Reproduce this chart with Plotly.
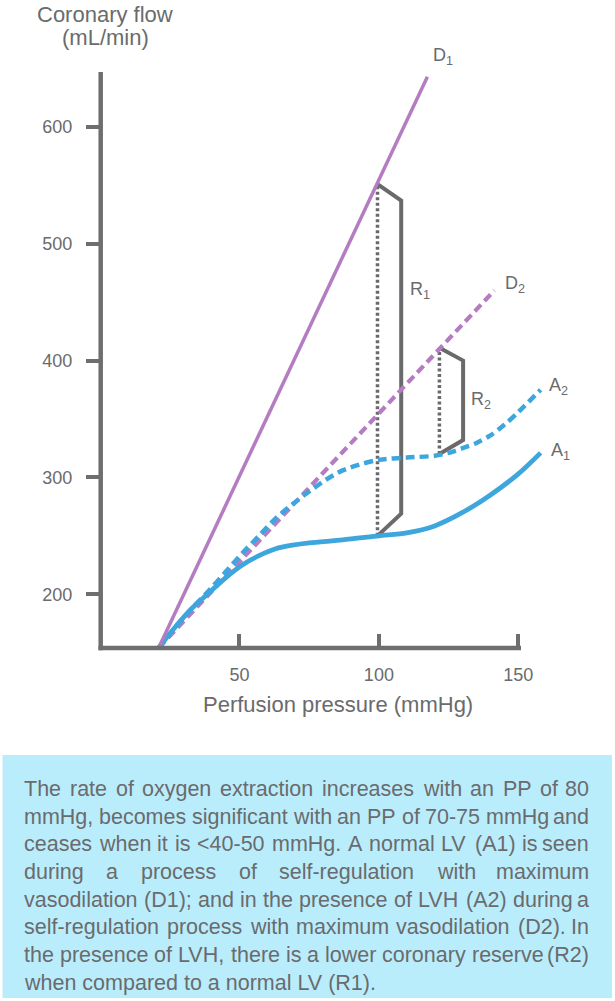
import plotly.graph_objects as go

# ---------------- data ----------------
x_ticks = [50, 100, 150]
y_ticks = [200, 300, 400, 500, 600]

d1_x = [21, 117.4]
d1_y = [154, 643]
d2_x = [21, 141.4]
d2_y = [154, 460]

a1_x = [21, 27, 33, 39, 45, 51, 57, 63, 69, 75, 87, 100, 110, 120, 130, 140, 150, 158]
a1_y = [154, 172, 188, 201, 214, 225, 233, 239, 242, 244, 246.5, 250, 252.5, 258.5, 270, 285, 303, 321]

a2_x = [21, 27, 33, 39, 45, 51, 57, 63, 69, 75, 81, 87, 93, 100, 110, 120, 125, 130, 135, 140, 145, 150, 158]
a2_y = [154, 172, 188, 203, 219, 235, 250, 265, 277, 288, 298, 306, 311, 315, 317, 318.5, 321, 325, 329.5, 336, 345, 356, 375]

r1_dot_x = [99.5, 99.5]
r1_dot_y = [250, 551]
r1_x = [99.5, 108, 108, 99.5]
r1_y = [551, 537, 269, 250]

r2_dot_x = [121.7, 121.7]
r2_dot_y = [320, 411]
r2_x = [121.7, 130.2, 130.2, 121.7]
r2_y = [411, 400, 332, 320]

label_text = ["D<sub>2</sub>", "R<sub>1</sub>", "R<sub>2</sub>", "A<sub>2</sub>", "A<sub>1</sub>"]
label_x = [148.9, 114.9, 136.7, 164.3, 165.0]
label_y = [465.4, 460.3, 366.0, 378.0, 322.4]
d1_label = "D<sub>1</sub>"

caption_lines = [
    "The rate of oxygen extraction increases with an PP of 80",
    "mmHg, becomes significant with an PP of 70-75 mmHg and",
    "ceases when it is <40-50 mmHg. A normal LV (A1) is seen",
    "during a process of self-regulation with maximum",
    "vasodilation (D1); and in the presence of LVH (A2) during a",
    "self-regulation process with maximum vasodilation (D2). In",
    "the presence of LVH, there is a lower coronary reserve (R2)",
    "when compared to a normal LV (R1).",
]

# ---------------- style ----------------
PURPLE = "#b47cc1"
BLUE = "#3ca6dd"
GRAY = "#6d6e70"
DARK = "#6a6a6c"
TXT = "#6a6b6d"
BOX = "#baedfc"
FONT = "Liberation Sans, Arial, Helvetica, sans-serif"

W, H = 615, 1001
L, T, PW, PH = 100, 72, 502, 576


def px_x(px):
    return (px - L) / PW


def px_y(py):
    return (T + PH - py) / PH


fig = go.Figure()

# brackets
for xs, ys in [(r1_dot_x, r1_dot_y), (r2_dot_x, r2_dot_y)]:
    fig.add_trace(go.Scatter(x=xs, y=ys, mode="lines",
                             line=dict(color=DARK, width=3.5, dash="3px,2.5px"),
                             hoverinfo="skip", showlegend=False))
for xs, ys in [(r1_x, r1_y), (r2_x, r2_y)]:
    fig.add_trace(go.Scatter(x=xs, y=ys, mode="lines",
                             line=dict(color=DARK, width=4),
                             hoverinfo="skip", showlegend=False))

# curves
fig.add_trace(go.Scatter(x=d2_x, y=d2_y, mode="lines",
                         line=dict(color=PURPLE, width=4.2, dash="9px,5px"), showlegend=False))
fig.add_trace(go.Scatter(x=a2_x, y=a2_y, mode="lines",
                         line=dict(color=BLUE, width=4.5, dash="9px,5px", shape="spline", smoothing=0.8),
                         showlegend=False))
fig.add_trace(go.Scatter(x=a1_x, y=a1_y, mode="lines",
                         line=dict(color=BLUE, width=4.8, shape="spline", smoothing=0.8), showlegend=False))
fig.add_trace(go.Scatter(x=d1_x, y=d1_y, mode="lines",
                         line=dict(color=PURPLE, width=3.5), showlegend=False))

annotations = []
for t, xx, yy in zip(label_text, label_x, label_y):
    annotations.append(dict(x=xx, y=yy, xref="x", yref="y", text=t, showarrow=False,
                            xanchor="center", yanchor="middle",
                            font=dict(family=FONT, size=18, color=TXT)))
annotations.append(dict(x=px_x(443), y=px_y(57), xref="paper", yref="paper", text=d1_label,
                        showarrow=False, xanchor="center", yanchor="middle",
                        font=dict(family=FONT, size=18, color=TXT)))

# axis titles
annotations.append(dict(x=px_x(105), y=px_y(14), xref="paper", yref="paper", text="Coronary flow",
                        showarrow=False, xanchor="center", yanchor="middle",
                        font=dict(family=FONT, size=22, color=TXT)))
annotations.append(dict(x=px_x(105), y=px_y(37), xref="paper", yref="paper", text="(mL/min)",
                        showarrow=False, xanchor="center", yanchor="middle",
                        font=dict(family=FONT, size=22, color=TXT)))
annotations.append(dict(x=px_x(338), y=px_y(704), xref="paper", yref="paper",
                        text="Perfusion pressure (mmHg)",
                        showarrow=False, xanchor="center", yanchor="middle",
                        font=dict(family=FONT, size=22, color=TXT)))

# caption (justified)
CW = {' ': 278, '(': 333, ')': 333, ',': 278, '-': 333, '.': 278, ';': 278, '<': 584,
      'A': 667, 'D': 722, 'H': 722, 'I': 278, 'L': 556, 'P': 667, 'R': 722, 'T': 611, 'V': 667,
      'a': 556, 'b': 556, 'c': 500, 'd': 556, 'e': 556, 'f': 278, 'g': 556, 'h': 556, 'i': 222,
      'l': 222, 'm': 833, 'n': 556, 'o': 556, 'p': 556, 'r': 333, 's': 500, 't': 278, 'u': 556,
      'v': 500, 'w': 722, 'x': 500, 'y': 500, 'z': 500}
FS = 21.5
LEFT, RIGHT = 23, 590


def tw(s):
    return sum(CW.get(c, 556) for c in s) / 1000.0 * FS


def esc(s):
    return s.replace("<", "&lt;")


for i, line in enumerate(caption_lines):
    base = 796 + i * 27.7
    yc = px_y(base - 0.33 * FS)
    if i == len(caption_lines) - 1:
        annotations.append(dict(x=px_x(LEFT), y=yc, xref="paper", yref="paper", text=esc(line),
                                xanchor="left", yanchor="middle", showarrow=False, borderpad=0,
                                font=dict(family=FONT, size=FS, color=TXT)))
        continue
    words = line.split(" ")
    total = sum(tw(w) for w in words)
    gap = (RIGHT - LEFT - total) / (len(words) - 1)
    cx = LEFT
    for j, w in enumerate(words):
        if j == len(words) - 1:
            annotations.append(dict(x=px_x(RIGHT), y=yc, xref="paper", yref="paper", text=esc(w),
                                    xanchor="right", yanchor="middle", showarrow=False, borderpad=0,
                                    font=dict(family=FONT, size=FS, color=TXT)))
        else:
            annotations.append(dict(x=px_x(cx), y=yc, xref="paper", yref="paper", text=esc(w),
                                    xanchor="left", yanchor="middle", showarrow=False, borderpad=0,
                                    font=dict(family=FONT, size=FS, color=TXT)))
        cx += tw(w) + gap

shapes = [
    # caption box
    dict(type="rect", xref="paper", yref="paper", x0=px_x(2.5), x1=px_x(612), y0=px_y(998), y1=px_y(755),
         fillcolor=BOX, line=dict(width=0), layer="below"),
    # y axis line
    dict(type="line", xref="paper", yref="paper", x0=px_x(100.7), x1=px_x(100.7), y0=px_y(650.2), y1=px_y(72),
         line=dict(color=GRAY, width=4.5)),
    # x axis line
    dict(type="line", xref="paper", yref="paper", x0=px_x(98.5), x1=px_x(521), y0=px_y(648), y1=px_y(648),
         line=dict(color=GRAY, width=4.5)),
]

fig.update_layout(
    width=W, height=H,
    margin=dict(l=L, r=W - L - PW, t=T, b=H - T - PH, pad=0),
    paper_bgcolor="white", plot_bgcolor="white",
    showlegend=False,
    annotations=annotations,
    shapes=shapes,
    xaxis=dict(range=[0, 180], showgrid=False, zeroline=False, showline=False,
               tickvals=x_ticks, ticktext=[str(v) for v in x_ticks],
               ticks="inside", ticklen=14, tickwidth=4, tickcolor=GRAY,
               ticklabelstandoff=14,
               tickfont=dict(family=FONT, size=18, color=TXT), fixedrange=True),
    yaxis=dict(range=[154, 647], showgrid=False, zeroline=False, showline=False,
               tickvals=y_ticks, ticktext=[str(v) for v in y_ticks],
               ticks="outside", ticklen=13, tickwidth=4, tickcolor=GRAY,
               ticklabelstandoff=10,
               tickfont=dict(family=FONT, size=18, color=TXT), fixedrange=True),
)

fig.write_html("out.html", config={"displayModeBar": False},
               post_script="document.body.style.margin='0px';")
